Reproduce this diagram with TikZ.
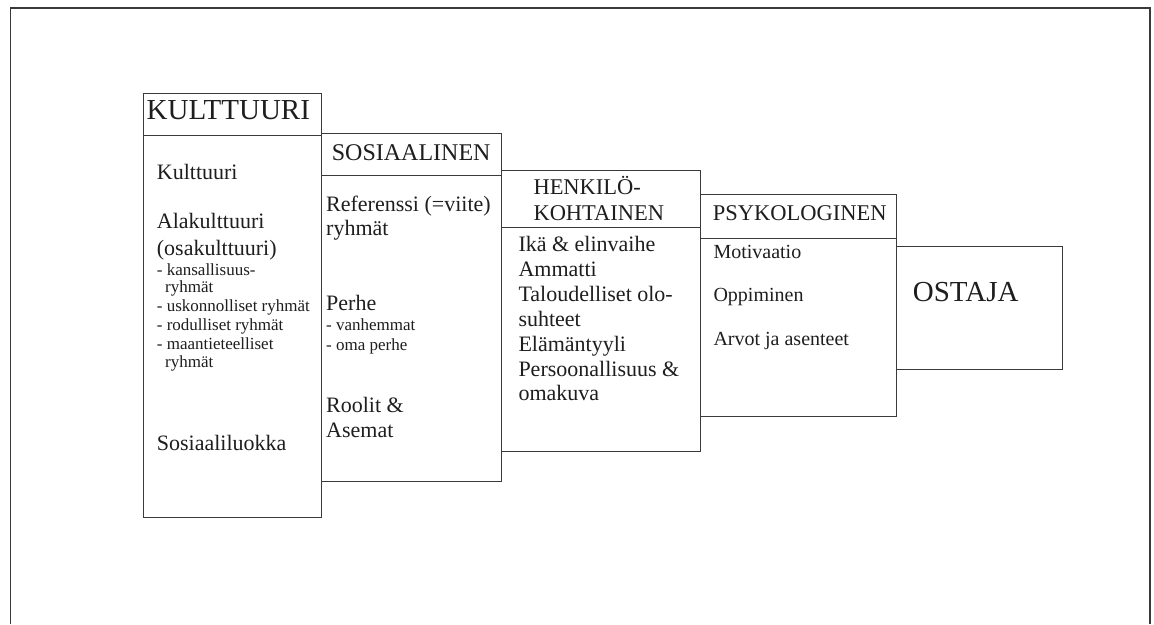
\documentclass[tikz,border=0pt]{standalone}
\usepackage{fontspec}
\setmainfont{Liberation Serif}
\definecolor{ink}{HTML}{1E1E1E}
\definecolor{rule}{HTML}{3A3A3A}
\tikzset{
  frameline/.style={draw=rule, line width=1.3pt},
  panel/.style={draw=rule, line width=1pt, fill=white, rectangle, inner sep=0pt, anchor=north west},
  txt/.style={inner sep=0pt, anchor=base west, text=ink},
  bigcap/.style={txt, font=\fontsize{29}{29}\selectfont},
  headcap/.style={txt, font=\fontsize{24}{24}\selectfont},
  headsm/.style={txt, font=\fontsize{22.5}{22.5}\selectfont},
  bodytxt/.style={txt, font=\fontsize{22}{22}\selectfont},
  bodysm/.style={txt, font=\fontsize{20}{20}\selectfont},
  subtxt/.style={txt, font=\fontsize{17}{17}\selectfont},
}
\begin{document}
\begin{tikzpicture}[x=1pt, y=-1pt]
\useasboundingbox (0,0) rectangle (1154,624);

% page frame (open at the bottom)
\draw[frameline] (10.5,624) -- (10.5,8) -- (1150,8) -- (1150,624);

% --- KULTTUURI column ---
\node[panel, minimum width=178pt, minimum height=41.5pt] (kultH) at (142.5,93) {};
\node[panel, minimum width=178pt, minimum height=382.5pt] (kultB) at (142.5,134.5) {};
\node[bigcap] (kultT) at (146.5,119.3) {KULTTUURI};
\node[bodytxt] (k1) at (156.7,179) {Kulttuuri};
\node[bodytxt] (k2) at (156.7,228.3) {Alakulttuuri};
\node[bodytxt] (k3) at (156.7,255) {(osakulttuuri)};
\node[subtxt] (k4) at (156.7,275.5) {- kansallisuus-};
\node[subtxt] (k5) at (165,292) {ryhmät};
\node[subtxt] (k6) at (156.7,311.5) {- uskonnolliset ryhmät};
\node[subtxt] (k7) at (156.7,330.5) {- rodulliset ryhmät};
\node[subtxt] (k8) at (156.7,349.5) {- maantieteelliset};
\node[subtxt] (k9) at (165,367.5) {ryhmät};
\node[bodytxt] (k10) at (156.7,450.7) {Sosiaaliluokka};

% --- SOSIAALINEN column ---
\node[panel, minimum width=180.5pt, minimum height=42.5pt] (sosH) at (320.5,132.5) {};
\node[panel, minimum width=180.5pt, minimum height=306pt] (sosB) at (320.5,175) {};
\node[headcap] (sosT) at (331.7,160.7) {SOSIAALINEN};
\node[bodytxt] (s1) at (326,211.7) {Referenssi (=viite)};
\node[bodytxt] (s2) at (326,235) {ryhmät};
\node[bodytxt] (s3) at (326,310) {Perhe};
\node[subtxt] (s4) at (326,330.7) {- vanhemmat};
\node[subtxt] (s5) at (326,350) {- oma perhe};
\node[bodytxt] (s6) at (326,412.3) {Roolit \&};
\node[bodytxt] (s7) at (326,437.3) {Asemat};

% --- HENKILÖKOHTAINEN column ---
\node[panel, minimum width=199pt, minimum height=57pt] (henH) at (501,170) {};
\node[panel, minimum width=199pt, minimum height=224pt] (henB) at (501,227) {};
\node[headsm] (henT1) at (533.3,194.3) {HENKILÖ-};
\node[headsm] (henT2) at (533.3,220) {KOHTAINEN};
\node[bodytxt] (h1) at (518.3,251.7) {Ikä \& elinvaihe};
\node[bodytxt] (h2) at (518.3,276.7) {Ammatti};
\node[bodytxt] (h3) at (518.3,301.7) {Taloudelliset olo-};
\node[bodytxt] (h4) at (518.3,326.7) {suhteet};
\node[bodytxt] (h5) at (518.3,351.7) {Elämäntyyli};
\node[bodytxt] (h6) at (518.3,376.7) {Persoonallisuus \&};
\node[bodytxt] (h7) at (518.3,400.7) {omakuva};

% --- PSYKOLOGINEN column ---
\node[panel, minimum width=195.5pt, minimum height=44.5pt] (psyH) at (700,193.5) {};
\node[panel, minimum width=195.5pt, minimum height=177.5pt] (psyB) at (700,238) {};
\node[headsm] (psyT) at (712.7,220) {PSYKOLOGINEN};
\node[bodysm] (p1) at (713.3,258.3) {Motivaatio};
\node[bodysm] (p2) at (713.3,301.7) {Oppiminen};
\node[bodysm] (p3) at (713.3,345.7) {Arvot ja asenteet};

% --- OSTAJA ---
\node[panel, minimum width=166.5pt, minimum height=122.5pt] (ost) at (895.5,246) {};
\node[bigcap] (ostT) at (912.7,301.7) {OSTAJA};
\end{tikzpicture}
\end{document}
